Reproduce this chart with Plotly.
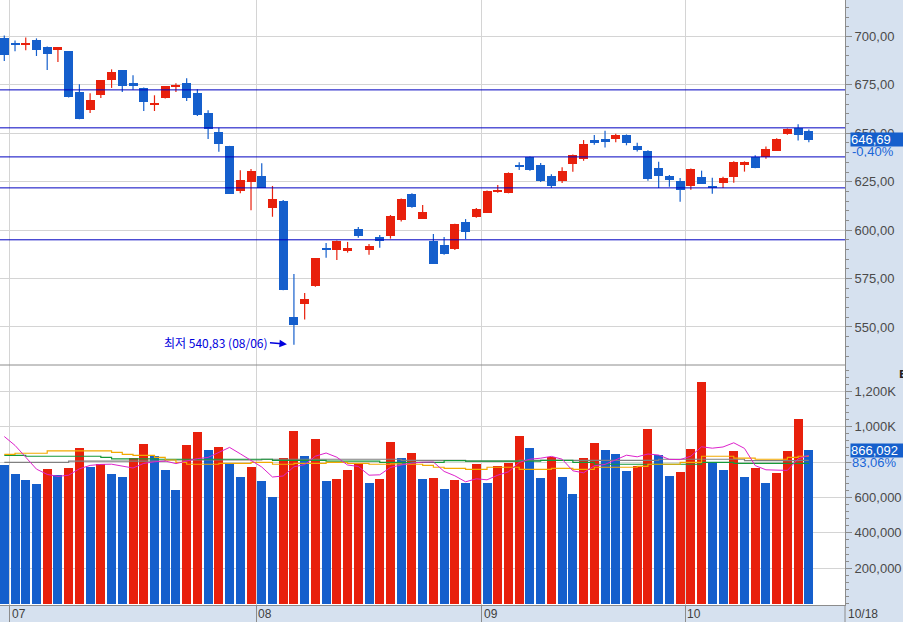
import pandas as pd
import plotly.graph_objects as go

red = "#e8200c"
blue = "#155fcc"
grid = "#d4d4d4"
axis_gray = "#8c8c8c"
panel_bg = "#d6e1ef"
label_font = "Liberation Sans, Arial, sans-serif"

# daily candles (index 0 = last day of June)
opens = [699.0, 696.4, 695.6, 697.9, 694.3, 692.8, 692.3, 671.1, 662.0, 669.7,
         677.5, 682.5, 675.8, 673.2, 665.1, 668.2, 673.9, 675.8, 670.6, 660.3,
         650.5, 643.3, 620.3, 624.9, 627.8, 611.6, 615.0, 555.3, 562.0, 571.3,
         590.8, 589.9, 589.4, 600.6, 589.9, 596.5, 597.1, 605.4, 618.7, 605.9,
         594.4, 592.3, 590.4, 604.2, 606.9, 609.0, 619.7, 619.2, 633.7, 637.9,
         633.6, 627.9, 625.3, 634.2, 636.8, 646.5, 646.9, 646.9, 648.9, 643.6,
         641.0, 632.2, 628.1, 625.5, 622.9, 627.6, 622.9, 624.5, 627.6, 633.4,
         637.6, 637.6, 641.0, 649.8, 652.5, 651.3]
highs = [700.5, 697.9, 699.5, 699.0, 694.8, 694.5, 692.5, 675.3, 670.6, 677.3,
         683.0, 682.6, 679.9, 673.6, 669.6, 674.3, 675.8, 678.4, 672.7, 661.9,
         652.9, 643.5, 630.9, 631.6, 634.5, 622.8, 615.6, 577.4, 567.5, 585.6,
         593.4, 594.6, 593.9, 601.6, 592.8, 597.5, 607.8, 616.3, 619.0, 613.0,
         598.0, 596.5, 603.3, 605.7, 611.4, 620.4, 623.3, 629.8, 635.1, 638.0,
         634.6, 628.9, 632.5, 639.0, 646.5, 649.1, 651.3, 649.8, 649.4, 645.1,
         641.2, 635.3, 628.5, 626.9, 631.8, 630.7, 627.1, 627.6, 635.5, 635.5,
         638.6, 643.2, 647.4, 652.5, 654.6, 651.9]
lows = [687.3, 692.4, 692.8, 689.9, 682.6, 686.8, 668.5, 657.2, 660.5, 668.2,
        673.4, 671.3, 672.5, 661.5, 661.5, 668.0, 671.3, 666.6, 658.9, 647.1,
        640.4, 618.7, 619.0, 610.3, 621.8, 606.9, 569.0, 540.83, 553.8, 570.8,
        585.8, 584.6, 588.4, 596.1, 587.3, 590.9, 595.6, 604.4, 611.6, 605.7,
        582.5, 587.3, 589.7, 595.4, 606.4, 608.8, 619.3, 619.0, 631.1, 630.6,
        624.8, 621.8, 624.3, 630.1, 635.8, 644.1, 642.7, 645.3, 643.8, 640.6,
        625.5, 621.7, 622.4, 614.7, 620.9, 624.0, 618.8, 621.7, 624.5, 630.2,
        632.0, 636.9, 640.8, 649.3, 646.3, 645.3]
closes = [690.4, 696.0, 696.4, 692.8, 690.9, 694.3, 668.7, 657.4, 667.0, 677.3,
          681.4, 674.4, 674.4, 666.1, 665.3, 674.2, 674.7, 668.2, 659.4, 652.4,
          644.5, 618.9, 625.8, 630.4, 622.0, 616.1, 569.2, 551.2, 564.4, 585.6,
          589.9, 594.4, 590.8, 597.1, 591.8, 594.5, 607.3, 616.1, 612.1, 609.4,
          582.7, 587.8, 603.2, 599.2, 610.9, 620.2, 620.3, 629.6, 632.7, 631.1,
          625.3, 622.9, 630.4, 638.9, 644.5, 645.1, 645.3, 648.9, 644.8, 641.2,
          626.2, 627.7, 626.0, 620.9, 631.7, 624.0, 621.7, 627.1, 635.3, 635.0,
          632.2, 641.7, 646.9, 652.0, 649.29, 646.69]

# volume in thousands
volumes_k = [783.6, 732.8, 698.9, 676.3, 761.0, 727.1, 766.7, 879.7, 772.3, 789.3,
             732.8, 715.8, 823.2, 902.3, 834.5, 755.4, 642.4, 896.6, 970.1, 868.4,
             885.3, 795.0, 715.8, 772.3, 693.2, 602.8, 823.2, 975.7, 834.5, 930.5,
             693.2, 704.5, 755.4, 795.0, 681.9, 704.5, 913.6, 823.2, 851.4, 704.5,
             710.2, 648.0, 698.9, 681.9, 789.3, 681.9, 778.0, 795.0, 947.5, 879.7,
             710.2, 828.8, 715.8, 619.8, 823.2, 908.0, 868.4, 845.8, 749.7, 778.0,
             987.0, 840.1, 721.5, 744.1, 874.0, 1253.0, 800.6, 755.4, 862.7, 715.8,
             766.7, 681.9, 738.4, 862.7, 1042.7, 866.092]
vol_before_k = [984, 1033, 1012, 910]

ma_orange_k = [844, 850, 850, 850, 863, 863, 863, 863, 863, 863,
               855, 844, 838, 838, 827, 812, 799, 788, 788, 788,
               793, 793, 793, 799, 799, 788, 788, 793, 793, 793,
               799, 799, 793, 793, 788, 788, 790, 788, 788, 782,
               771, 765, 765, 759, 759, 771, 771, 771, 759, 759,
               759, 765, 765, 759, 759, 771, 771, 771, 771, 776,
               788, 788, 788, 799, 799, 833, 833, 833, 822, 822,
               816, 816, 816, 827, 833, 833]
ma_green_k = [838, 838, 833, 833, 833, 833, 833, 833, 833, 827,
              818, 818, 818, 818, 816, 816, 816, 816, 816, 816,
              816, 816, 816, 816, 816, 810, 810, 810, 810, 810,
              805, 805, 805, 805, 805, 799, 799, 799, 799, 799,
              799, 808, 808, 806, 806, 806, 806, 806, 806, 806,
              810, 810, 810, 799, 799, 788, 788, 788, 788, 788,
              788, 788, 788, 788, 788, 799, 799, 799, 793, 793,
              793, 793, 793, 793, 793, 793]
ma_gray_k = [799, 799, 799, 799, 799, 799, 805, 805, 805, 805,
             805, 805, 805, 805, 805, 812, 812, 812, 812, 812,
             812, 812, 812, 812, 816, 816, 816, 816, 816, 816,
             816, 816, 816, 816, 816, 816, 816, 810, 810, 810,
             810, 810, 810, 805, 805, 805, 805, 805, 810, 810,
             810, 810, 810, 810, 810, 810, 810, 810, 810, 810,
             810, 816, 816, 816, 816, 816, 816, 816, 816, 808,
             808, 808, 808, 808, 810, 810]

levels = [672.4, 652.8, 637.8, 621.8, 595.0]
price_ticks = [550, 575, 600, 625, 650, 675, 700]
vol_ticks = [200000, 400000, 600000, 800000, 1000000, 1200000]
vol_ticktext = ["200,000", "400,000", "600,000", "800,000", "1,000K", "1,200K"]
month_pos = [0.5, 23.5, 44.5, 63.5]
month_labels = ["07", "08", "09", "10"]
last_date = "10/18"
low_idx = 27
low_note = "최저 540,83 (08/06)"

idx = list(range(len(closes)))
volumes = [v * 1000 for v in volumes_k]
prev_vol = [v * 1000 for v in vol_before_k]

def comma(x):
    return f"{x:.2f}".replace(".", ",")

# candle bodies and wicks
body_base = [min(o, c) for o, c in zip(opens, closes)]
body_h = [max(abs(c - o), 0.7) for o, c in zip(opens, closes)]
c_colors = [red if c >= o else blue for o, c in zip(opens, closes)]

fig = go.Figure()
for col in [red, blue]:
    wx, wy = [], []
    for i in idx:
        if c_colors[i] == col:
            wx += [i, i, None]
            wy += [lows[i], highs[i], None]
    fig.add_trace(go.Scatter(x=wx, y=wy, mode="lines", line=dict(color=col, width=1.2),
                             hoverinfo="skip", xaxis="x", yaxis="y"))
fig.add_trace(go.Bar(x=idx, y=body_h, base=body_base, width=0.84, marker_color=c_colors,
                     marker_line_width=0, xaxis="x", yaxis="y"))

# volume bars coloured by change against previous day
all_vol = prev_vol + volumes
n0 = len(prev_vol)
v_colors = [red if all_vol[k + n0] > all_vol[k + n0 - 1] else blue for k in idx]
fig.add_trace(go.Bar(x=idx, y=volumes, width=0.84, marker_color=v_colors,
                     marker_line_width=0, xaxis="x2", yaxis="y2"))

ma5 = pd.Series(all_vol).rolling(5).mean().tolist()[n0:]
for vals, col in [(ma_gray_k, "#808080"), (ma_green_k, "#17993a"), (ma_orange_k, "#f2a900")]:
    fig.add_trace(go.Scatter(x=idx, y=[v * 1000 for v in vals], mode="lines", line_shape="hv",
                             line=dict(color=col, width=1.2), hoverinfo="skip",
                             xaxis="x2", yaxis="y2"))
fig.add_trace(go.Scatter(x=idx, y=ma5, mode="lines", line=dict(color="#dd22cc", width=1),
                         hoverinfo="skip", xaxis="x2", yaxis="y2"))

xr = [-0.4, 78.37]
split = 240 / 605
tickfont = dict(family=label_font, size=13, color="#4a4a4a")
fig.update_layout(
    width=903, height=622,
    margin=dict(l=0, r=58, t=0, b=17),
    paper_bgcolor=panel_bg, plot_bgcolor="white",
    showlegend=False, bargap=0,
    xaxis=dict(domain=[0, 1], range=xr, anchor="y", tickvals=month_pos, showticklabels=False,
               ticks="", showgrid=True, gridcolor=grid, zeroline=False, automargin=False),
    xaxis2=dict(domain=[0, 1], range=xr, anchor="y2", tickvals=month_pos, showticklabels=False,
                ticks="outside", ticklen=17, tickcolor=axis_gray, showline=True, linecolor=axis_gray,
                showgrid=True, gridcolor=grid, zeroline=False, automargin=False),
    yaxis=dict(domain=[split, 1], range=[530.37, 718.8], anchor="x", side="right",
               tickvals=price_ticks, ticktext=[comma(t) for t in price_ticks], tickfont=tickfont,
               ticks="outside", ticklen=6, tickcolor=axis_gray, showline=True, linecolor=axis_gray,
               gridcolor=grid, zeroline=False, automargin=False,
               minor=dict(tickmode="linear", tick0=0, dtick=5, ticks="outside", ticklen=3,
                          tickcolor=axis_gray, showgrid=False)),
    yaxis2=dict(domain=[0, split], range=[-7300, 1348600], anchor="x2", side="right",
                tickvals=vol_ticks, ticktext=vol_ticktext, tickfont=tickfont,
                ticks="outside", ticklen=6, tickcolor=axis_gray, showline=True, linecolor=axis_gray,
                gridcolor=grid, zeroline=False, automargin=False,
                minor=dict(tickmode="linear", tick0=0, dtick=40000, ticks="outside", ticklen=3,
                           tickcolor=axis_gray, showgrid=False)),
)

for lv in levels:
    fig.add_shape(type="line", xref="x domain", yref="y", x0=0, x1=1, y0=lv, y1=lv,
                  line=dict(color="#0000c0", width=1))
fig.add_shape(type="line", xref="paper", yref="paper", x0=0, x1=1, y0=split, y1=split,
              line=dict(color=axis_gray, width=1))
fig.add_shape(type="line", xref="paper", yref="paper", x0=1, x1=1, y0=-17 / 605, y1=0,
              line=dict(color=axis_gray, width=1))

for pos, lab in zip(month_pos, month_labels):
    fig.add_annotation(x=pos, xref="x2", y=0, yref="paper", yanchor="top", xanchor="left",
                       text=lab, showarrow=False, xshift=0, yshift=0,
                       font=dict(family=label_font, size=12, color="#404040"))
fig.add_annotation(x=1, xref="paper", y=0, yref="paper", yanchor="top", xanchor="left",
                   text=last_date, showarrow=False, xshift=1, yshift=0,
                   font=dict(family=label_font, size=12, color="#404040"))

# last value labels (the change text sits on the panel colour and hides the tick under it)
last_close = closes[-1]
chg = (closes[-1] / closes[-2] - 1) * 100
fig.add_annotation(x=1, xref="paper", y=last_close, yref="y", xanchor="left", xshift=6, yshift=-12,
                   text=comma(chg) + "%", showarrow=False, bgcolor=panel_bg, width=52, height=11,
                   align="left", borderpad=0,
                   font=dict(family=label_font, size=13, color="#1a66d8"))
fig.add_annotation(x=1, xref="paper", y=last_close, yref="y", xanchor="left", xshift=5,
                   text=comma(last_close), showarrow=False, bgcolor=blue, width=53, height=13,
                   align="left", borderpad=0, font=dict(family=label_font, size=13, color="white"))
last_vol = volumes[-1]
vol_ratio = last_vol / volumes[-2] * 100
fig.add_annotation(x=1, xref="paper", y=last_vol, yref="y2", xanchor="left", xshift=6, yshift=-12,
                   text=comma(vol_ratio) + "%", showarrow=False, bgcolor=panel_bg, width=52, height=11,
                   align="left", borderpad=0,
                   font=dict(family=label_font, size=13, color="#1a66d8"))
fig.add_annotation(x=1, xref="paper", y=last_vol, yref="y2", xanchor="left", xshift=5,
                   text=f"{last_vol:,.0f}", showarrow=False, bgcolor=blue, width=53, height=13,
                   align="left", borderpad=0, font=dict(family=label_font, size=13, color="white"))
fig.add_annotation(x=1, xref="paper", y=split, yref="paper", yanchor="top", xanchor="left",
                   xshift=52, yshift=-2, text="<b>E</b>", showarrow=False,
                   font=dict(family="DejaVu Sans", size=10, color="#222222"))

# lowest point note
fig.add_annotation(x=low_idx, y=lows[low_idx], xref="x", yref="y", text=low_note,
                   showarrow=True, ax=-24, ay=-2, xanchor="right", standoff=7,
                   arrowhead=2, arrowsize=1, arrowwidth=1.5, arrowcolor="#0000dd",
                   font=dict(family="Noto Sans CJK KR", size=12, color="#0000dd"))

fig.write_html("out.html", config={"displayModeBar": False},
               post_script="document.body.style.margin='0';")
